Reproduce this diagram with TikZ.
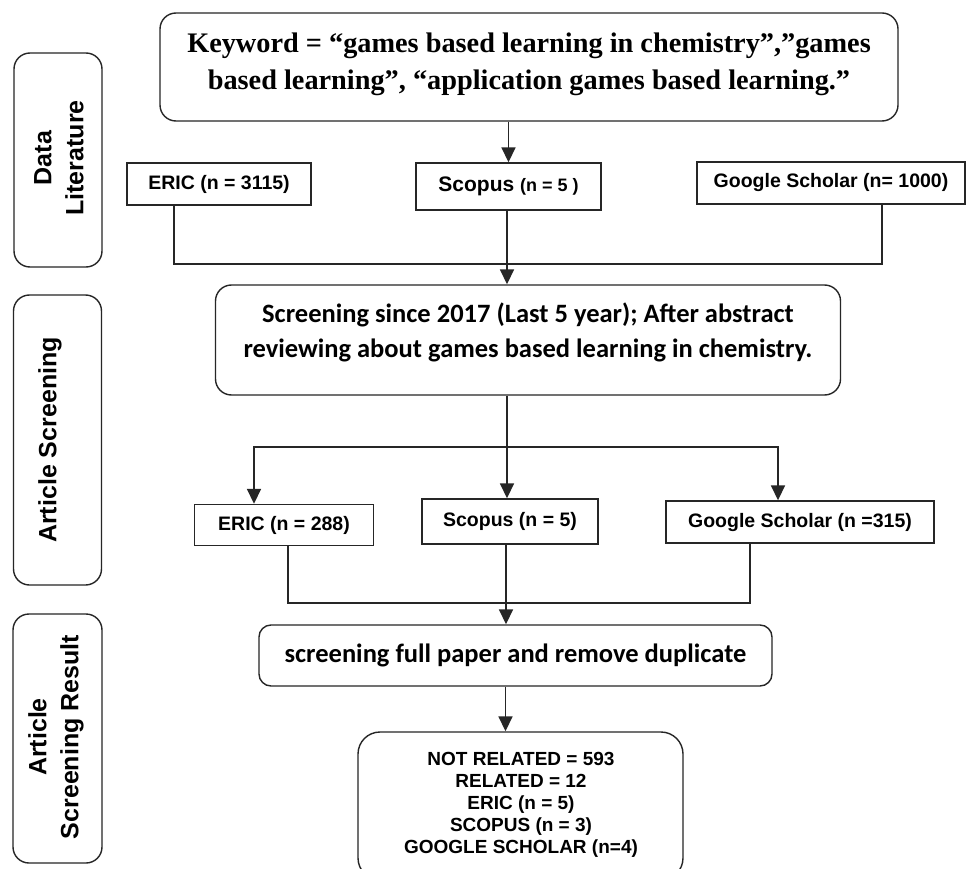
\documentclass[tikz,border=0pt]{standalone}
\usepackage{fontspec}
\setmainfont{Liberation Serif}
\newfontfamily\arialf{Liberation Sans}
\newfontfamily\calf{Carlito}
\usetikzlibrary{arrows.meta}
\begin{document}
\begin{tikzpicture}[x=1pt,y=-1pt,
  box/.style={draw=black!85, line width=1.4pt, inner sep=0pt},
  rbox/.style={box, rounded corners=16pt},
  sq/.style={box, font=\arialf\bfseries\fontsize{19.5}{23}\selectfont},
  conn/.style={draw=black!85, line width=1.7pt},
  arr/.style={conn, -{Triangle[width=14pt,length=15pt]}},
  side/.style={box, rounded corners=16pt},
  sidetxt/.style={font=\arialf\bfseries\fontsize{25}{32}\selectfont, rotate=90, align=center},
  bigtxt/.style={align=center, inner sep=0pt},
]
\useasboundingbox (0,0) rectangle (966,869);
\clip (0,0) rectangle (966,869);
\fill[white] (0,0) rectangle (966,869);

% side boxes
\node[side, minimum width=88pt, minimum height=214pt] (side1) at (58,160) {};
\node[sidetxt] (side1t) at (59,158) {Data\\Literature};
\node[side, minimum width=88pt, minimum height=290pt] (side2) at (57.5,440) {};
\node[sidetxt] (side2t) at (50,440) {Article Screening};
\node[side, minimum width=89pt, minimum height=249pt] (side3) at (57.5,738.5) {};
\node[sidetxt] (side3t) at (56,737) {Article\\Screening Result};

% keyword box
\node[rbox, minimum width=738pt, minimum height=108pt] (kw) at (529,67) {};
\node[bigtxt, font=\bfseries\fontsize{28.3}{37}\selectfont] (kwt) at (529,64)
  {Keyword = “games based learning in chemistry”,”games\\based learning”, “application games based learning.”};

% first row
\node[sq, minimum width=184pt, minimum height=42pt] (eric1) at (219,184) {ERIC (n = 3115)};
\node[sq, minimum width=185pt, minimum height=47pt, font=\arialf\bfseries\fontsize{21}{24}\selectfont] (sc1) at (508.5,186.5) {Scopus {\fontsize{18}{20}\selectfont (n = 5 )}};
\node[sq, minimum width=268pt, minimum height=42pt] (gs1) at (831,183) {Google Scholar (n= 1000)};

% screening box
\node[rbox, minimum width=625pt, minimum height=110pt] (scr) at (528,340) {};
\node[bigtxt, font=\calf\bfseries\fontsize{26.5}{35}\selectfont] (scrt) at (528,332)
  {Screening since 2017 (Last 5 year); After abstract\\reviewing about games based learning in chemistry.};

% second row
\node[sq, minimum width=179pt, minimum height=41pt] (eric2) at (284,525) {ERIC (n = 288)};
\node[sq, minimum width=176pt, minimum height=45pt] (sc2) at (510,521.5) {Scopus (n = 5)};
\node[sq, minimum width=268pt, minimum height=42pt] (gs2) at (800,522) {Google Scholar (n =315)};

% full paper box
\node[rbox, rounded corners=12pt, minimum width=513pt, minimum height=61pt, font=\calf\bfseries\fontsize{26.5}{32}\selectfont] (sfp) at (515.5,655.5) {screening full paper and remove duplicate};

% result box
\node[rbox, rounded corners=22pt, minimum width=325pt, minimum height=148pt] (res) at (520.5,806) {};
\node[bigtxt, font=\arialf\bfseries\fontsize{19}{22}\selectfont] (rest) at (521,805)
  {NOT RELATED = 593\\RELATED = 12\\ERIC (n = 5)\\SCOPUS (n = 3)\\GOOGLE SCHOLAR (n=4)};

% connectors
\coordinate (split) at (507,447);
\draw[arr] (kw.south -| sc1.north) -- (sc1.north);
\draw[conn] ([xshift=-45pt]eric1.south) -- ++(0,58) -| ([xshift=51pt]gs1.south);
\draw[arr] ([xshift=-1.5pt]sc1.south) -- ([xshift=-1.5pt]sc1.south |- scr.north);
\draw[conn] (split |- scr.south) -- (split);
\draw[arr] (split) -- (split |- sc2.north);
\draw[arr] (split) -| ([xshift=-30pt]eric2.north);
\draw[arr] (split) -| ([xshift=-22pt]gs2.north);
\draw[conn] ([xshift=4pt]eric2.south) -- ++(0,57) -| ([xshift=-50pt]gs2.south);
\draw[arr] ([xshift=-4pt]sc2.south) -- ([xshift=-4pt]sc2.south |- sfp.north);
\draw[arr] ([xshift=-10pt]sfp.south) -- ([xshift=-10pt]sfp.south |- res.north);
\end{tikzpicture}
\end{document}
